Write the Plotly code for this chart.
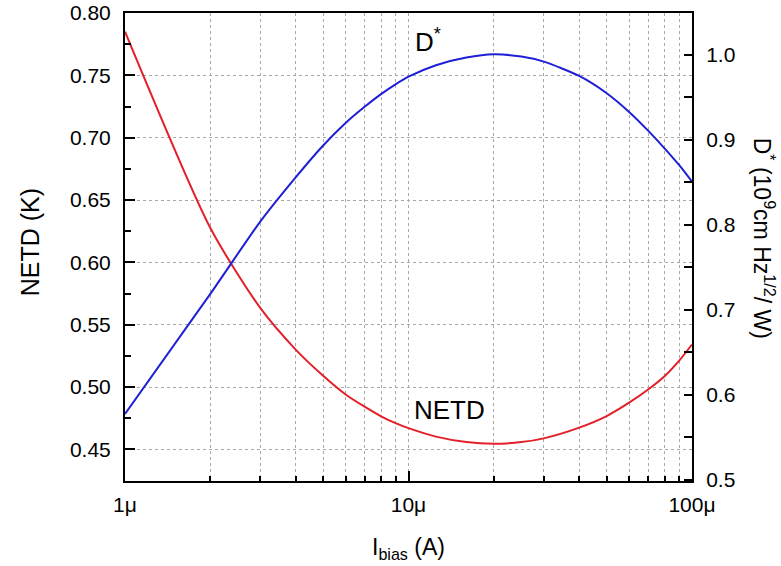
import plotly.graph_objects as go

# ---- data ----
I_bias_uA = [1, 2, 3, 4, 5, 6, 7, 8, 9, 10, 12.5, 16, 20, 25, 30, 40, 50, 60, 70, 80, 90, 100]
NETD_K = [0.785, 0.6275, 0.5634, 0.5300, 0.5090, 0.4940, 0.4842, 0.4765, 0.4710, 0.4670,
          0.4602, 0.4558, 0.4545, 0.4558, 0.4588, 0.4674, 0.4767, 0.4874, 0.4980, 0.5087,
          0.5210, 0.5341]
D_star = [0.5776, 0.7190, 0.8040, 0.8560, 0.8935, 0.9200, 0.9390, 0.9540, 0.9655, 0.9745,
          0.9880, 0.9970, 1.0008, 0.9981, 0.9922, 0.9753, 0.9550, 0.9330, 0.9110, 0.8902,
          0.8706, 0.8510]

x_tickvals = [1, 10, 100]
x_ticktext = ["1μ", "10μ", "100μ"]
x_minor_vals = [2, 3, 4, 5, 6, 7, 8, 9, 20, 30, 40, 50, 60, 70, 80, 90]

FONT = "Liberation Sans, Arial, sans-serif"
RED = "#e3202a"
BLUE = "#1f1fd6"
GRID = "#a8a8a8"

fig = go.Figure()
fig.add_trace(go.Scatter(x=I_bias_uA, y=NETD_K, mode="lines",
                         line=dict(color=RED, width=2, shape="spline", smoothing=0.7),
                         yaxis="y", showlegend=False))
fig.add_trace(go.Scatter(x=I_bias_uA, y=D_star, mode="lines",
                         line=dict(color=BLUE, width=2, shape="spline", smoothing=0.7),
                         yaxis="y2", showlegend=False))

fig.update_layout(
    width=781, height=566,
    margin=dict(l=125, r=89, t=13, b=85, autoexpand=False),
    paper_bgcolor="white", plot_bgcolor="white",
    font=dict(family=FONT, color="black", size=21),
    xaxis=dict(
        type="log", range=[0, 2], automargin=False,
        tickmode="array", tickvals=x_tickvals, ticktext=x_ticktext,
        ticks="inside", ticklen=10, tickwidth=2, tickcolor="black",
        showline=True, linewidth=2, linecolor="black", mirror=True,
        showgrid=True, gridcolor=GRID, griddash="dot", gridwidth=1,
        ticklabelstandoff=4,
        tickfont=dict(size=21),
        minor=dict(tickmode="array", tickvals=x_minor_vals, ticks="inside",
                   ticklen=5, tickwidth=1.5, tickcolor="black",
                   showgrid=True, gridcolor=GRID, griddash="dot", gridwidth=1),
        zeroline=False,
    ),
    yaxis=dict(
        range=[0.4246, 0.80], tick0=0.45, dtick=0.05, tickformat=".2f",
        automargin=False,
        ticks="inside", ticklen=10, tickwidth=2, tickcolor="black",
        showline=True, linewidth=2, linecolor="black", mirror=False,
        showgrid=True, gridcolor=GRID, griddash="dot", gridwidth=1,
        ticklabelstandoff=8,
        tickfont=dict(size=21),
        minor=dict(tick0=0.475, dtick=0.05, ticks="inside", ticklen=6,
                   tickwidth=1.5, tickcolor="black", showgrid=False),
        zeroline=False,
    ),
    yaxis2=dict(
        overlaying="y", side="right", automargin=False,
        range=[0.4988, 1.0494], tick0=0.5, dtick=0.1, tickformat=".1f",
        ticks="inside", ticklen=8, tickwidth=2, tickcolor="black",
        showline=True, linewidth=2, linecolor="black",
        showgrid=False,
        ticklabelstandoff=8,
        tickfont=dict(size=21),
        minor=dict(tick0=0.55, dtick=0.1, ticks="inside", ticklen=8,
                   tickwidth=1.5, tickcolor="black", showgrid=False),
        zeroline=False,
    ),
    annotations=[
        # curve labels
        dict(text="D<sup>*</sup>", x=1.069, y=0.778, xref="x", yref="y",
             showarrow=False, font=dict(size=26)),
        dict(text="NETD", x=1.143, y=0.4812, xref="x", yref="y",
             showarrow=False, font=dict(size=26)),
        # axis titles
        dict(text="NETD (K)", x=0, y=0.51, xref="paper", yref="paper",
             xanchor="center", yanchor="middle", xshift=-95, textangle=-90,
             showarrow=False, font=dict(size=25)),
        dict(text="D<sup>*</sup> (10<sup>9</sup>cm Hz<sup>1/2</sup>/ W)",
             x=1, y=0.52, xref="paper", yref="paper",
             xanchor="center", yanchor="middle", xshift=72, textangle=90,
             showarrow=False, font=dict(size=23)),
        dict(text="I<sub>bias</sub> (A)", x=0.5, y=0, xref="paper", yref="paper",
             xanchor="center", yanchor="middle", yshift=-67,
             showarrow=False, font=dict(size=23)),
    ],
)

fig.write_html("out.html")
